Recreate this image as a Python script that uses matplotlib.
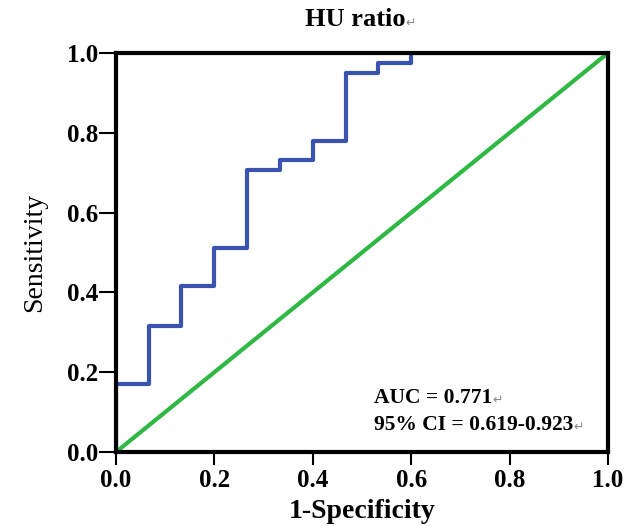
import matplotlib
matplotlib.use("Agg")
import matplotlib.pyplot as plt

# ---- data ----
fpr = [0.0, 0.0, 0.067, 0.133, 0.2, 0.267, 0.333, 0.4, 0.467, 0.533, 0.6, 1.0]
tpr = [0.0, 0.171, 0.317, 0.415, 0.512, 0.707, 0.732, 0.780, 0.951, 0.976, 1.0, 1.0]
ref_x = [0.0, 1.0]
ref_y = [0.0, 1.0]
ticks = [0.0, 0.2, 0.4, 0.6, 0.8, 1.0]
tick_labels = ["0.0", "0.2", "0.4", "0.6", "0.8", "1.0"]
title = "HU ratio"
auc_text = "AUC = 0.771"
ci_text = "95% CI = 0.619-0.923"

W, H, DPI = 626, 526, 100
fig = plt.figure(figsize=(W / DPI, H / DPI), dpi=DPI)
ax = fig.add_axes([116 / W, 1 - 452 / H, (608 - 116) / W, (452 - 53) / H])

blue = "#3a52b0"
green = "#2fb844"
ax.step(fpr, tpr, where="post", color=blue, lw=3.0, zorder=3)
ax.plot(ref_x, ref_y, color=green, lw=3.0, zorder=2)

ax.set_xlim(0, 1)
ax.set_ylim(0, 1)
for s in ax.spines.values():
    s.set_linewidth(3.0)
    s.set_zorder(5)

serif = ["Liberation Serif", "DejaVu Serif"]
ax.set_xticks(ticks)
ax.set_yticks(ticks)
ax.set_xticklabels(tick_labels, fontfamily=serif, fontweight="bold", fontsize=18)
ax.set_yticklabels(tick_labels, fontfamily=serif, fontweight="bold", fontsize=18)
ax.tick_params(axis="x", direction="out", length=9, width=1.5, pad=3)
ax.tick_params(axis="y", direction="out", length=12, width=1.5, pad=1)

ax.set_xlabel("1-Specificity", fontfamily=serif, fontweight="bold", fontsize=20, labelpad=5)
ax.set_ylabel("Sensitivity", fontfamily=serif, fontweight="normal", fontsize=20, labelpad=14)

mark_kw = dict(fontsize=9, color="#888888", family="DejaVu Sans", va="bottom", ha="left",
               textcoords="offset points", xytext=(0, 1))

t = fig.text(355 / W, 1 - 20 / H, title, fontfamily=serif, fontweight="bold", fontsize=19,
             ha="center", va="center")
ax.annotate("\u21b5", xy=(1, 0), xycoords=t, **mark_kw)

a1 = ax.text(0.524, 0.135, auc_text, transform=ax.transAxes, fontfamily=serif,
             fontweight="bold", fontsize=15.5, ha="left", va="center")
ax.annotate("\u21b5", xy=(1, 0), xycoords=a1, **mark_kw)
a2 = ax.text(0.524, 0.068, ci_text, transform=ax.transAxes, fontfamily=serif,
             fontweight="bold", fontsize=15.5, ha="left", va="center")
ax.annotate("\u21b5", xy=(1, 0), xycoords=a2, **mark_kw)

fig.savefig("out.png", dpi=DPI)
